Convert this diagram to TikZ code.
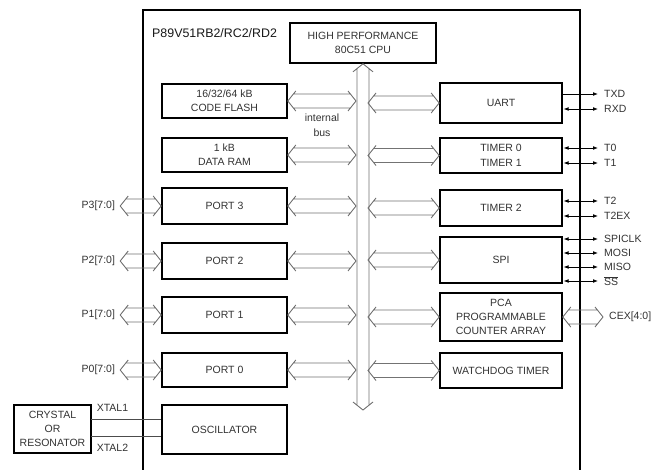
\documentclass[tikz,border=0pt]{standalone}
\usepackage{fontspec}
\setmainfont{Liberation Sans}
\usetikzlibrary{arrows.meta,calc}
\tikzset{
  blk/.style={draw=black, line width=1.6pt, inner sep=0pt, align=center, text=black!80,
     font=\fontsize{10.5}{14}\selectfont},
  lbl/.style={inner sep=0pt, text=black!80, font=\fontsize{10.5}{14}\selectfont},
  busline/.style={draw=black!55, line width=0.9pt},
  sig/.style={draw=black, line width=0.8pt, {Latex[length=5pt,width=3.8pt]}-{Latex[length=5pt,width=3.8pt]}, shorten <=0.8pt},
  sigout/.style={draw=black, line width=0.8pt, -{Latex[length=5pt,width=3.8pt]}},
  xtal/.style={draw=black!70, line width=0.9pt},
}
\newcommand\hbusarrow[2]{\draw[busline] let \p1=(#1), \p2=(#2) in
  (\x1+8pt,\y1+10pt) -- (\x1,\y1) -- (\x1+8pt,\y1-10pt)
  (\x1+5.6pt,\y1+7pt) -- (\x2-5.6pt,\y1+7pt)
  (\x1+5.6pt,\y1-7pt) -- (\x2-5.6pt,\y1-7pt)
  (\x2-8pt,\y1+10pt) -- (\x2,\y1) -- (\x2-8pt,\y1-10pt);}
\newcommand\vbusarrow[2]{\draw[busline] let \p1=(#1), \p2=(#2) in
  (\x1-10pt,\y1-8pt) -- (\x1,\y1) -- (\x1+10pt,\y1-8pt)
  (\x1-6pt,\y1-4.8pt) -- (\x1-6pt,\y2+4.8pt)
  (\x1+6pt,\y1-4.8pt) -- (\x1+6pt,\y2+4.8pt)
  (\x1-10pt,\y2+8pt) -- (\x1,\y2) -- (\x1+10pt,\y2+8pt);}
\begin{document}
\begin{tikzpicture}[x=1pt,y=-1pt]
\useasboundingbox (0,0) rectangle (668,470);
\fill[white] (0,0) rectangle (668,470);
% outer chip outline (open at bottom)
\draw[line width=1.8pt] (143,472) -- (143,10) -- (580,10) -- (580,472);
\node[lbl, anchor=west, font=\fontsize{12.4}{14}\selectfont, text=black!90] (title) at (152,33) {P89V51RB2/RC2/RD2};

% CPU
\node[blk, minimum width=146, minimum height=40] (cpu) at (363,43) {HIGH PERFORMANCE\\80C51 CPU};

% left blocks
\node[blk, minimum width=125, minimum height=34] (flash) at (224.5,101) {16/32/64 kB\\CODE FLASH};
\node[blk, minimum width=125, minimum height=34] (ram) at (224.5,155) {1 kB\\DATA RAM};
\node[blk, minimum width=125, minimum height=36] (p3) at (224.5,206) {PORT 3};
\node[blk, minimum width=125, minimum height=36] (p2) at (224.5,261) {PORT 2};
\node[blk, minimum width=125, minimum height=36] (p1) at (224.5,315) {PORT 1};
\node[blk, minimum width=125, minimum height=34] (p0) at (224.5,370) {PORT 0};
\node[blk, minimum width=125, minimum height=49] (osc) at (224.5,429.5) {OSCILLATOR};

% right blocks
\node[blk, minimum width=122, minimum height=40] (uart) at (501,103) {UART};
\node[blk, minimum width=122, minimum height=35, font=\fontsize{10.5}{15}\selectfont] (tim) at (501,155.5) {TIMER 0\\TIMER 1};
\node[blk, minimum width=122, minimum height=36] (tim2) at (501,208) {TIMER 2};
\node[blk, minimum width=122, minimum height=46] (spi) at (501,260) {SPI};
\node[blk, minimum width=122, minimum height=48] (pca) at (501,317) {PCA\\PROGRAMMABLE\\COUNTER ARRAY};
\node[blk, minimum width=122, minimum height=35] (wdt) at (501,370.5) {WATCHDOG TIMER};

% crystal
\node[blk, minimum width=77, minimum height=48] (xtal) at (52.5,429) {CRYSTAL\\OR\\RESONATOR};

% internal bus
\coordinate (busbot) at (362,410);
\coordinate (busL) at (356,0);
\coordinate (busR) at (368,0);
\vbusarrow{cpu.south}{busbot}
\node[lbl, align=center, font=\fontsize{10.5}{15}\selectfont] (ibus) at (322,125.5) {internal\\bus};

\foreach \b in {flash,ram,p3,p2,p1,p0} {\hbusarrow{\b.east}{busL |- \b.east}}
\foreach \b in {uart,tim,tim2,spi,pca,wdt} {\hbusarrow{busR |- \b.west}{\b.west}}

% port pins
\foreach \b/\t in {p3/P3[7:0],p2/P2[7:0],p1/P1[7:0],p0/P0[7:0]} {
  \coordinate (\b pin) at ($(\b.west)+(-41,0)$);
  \hbusarrow{\b pin}{\b.west}
  \node[lbl, anchor=east] (\b lab) at ($(\b pin)+(-5,0)$) {\t};
}

% CEX
\coordinate (cexpin) at (603,317);
\hbusarrow{pca.east}{cexpin}
\node[lbl, anchor=west] (cexlab) at (609,317) {CEX[4:0]};

% signal pins
\foreach \n/\y/\t in {txd/94/TXD, rxd/109/RXD, t0/148/T0, t1/163/T1,
    t2/201/T2, t2ex/216/T2EX, spiclk/239/SPICLK, mosi/253/MOSI,
    miso/267/MISO, ss/281/{$\overline{\mbox{SS}}$}} {
  \coordinate (\n) at (598,\y);
  \node[lbl, anchor=west] (\n lab) at (604,\y) {\t};
}
\draw[sigout] (uart.east |- txd) -- (txd);
\foreach \n/\b in {rxd/uart,t0/tim,t1/tim,t2/tim2,t2ex/tim2,spiclk/spi,mosi/spi,miso/spi,ss/spi}
  {\draw[sig] (\b.east |- \n) -- (\n);}

% crystal lines
\coordinate (x1) at (91,419);
\coordinate (x2) at (91,436);
\draw[xtal] (x1) -- (osc.west |- x1);
\draw[xtal] (x2) -- (osc.west |- x2);
\node[lbl] (x1lab) at (112.5,408) {XTAL1};
\node[lbl] (x2lab) at (112.5,448) {XTAL2};
\end{tikzpicture}
\end{document}
